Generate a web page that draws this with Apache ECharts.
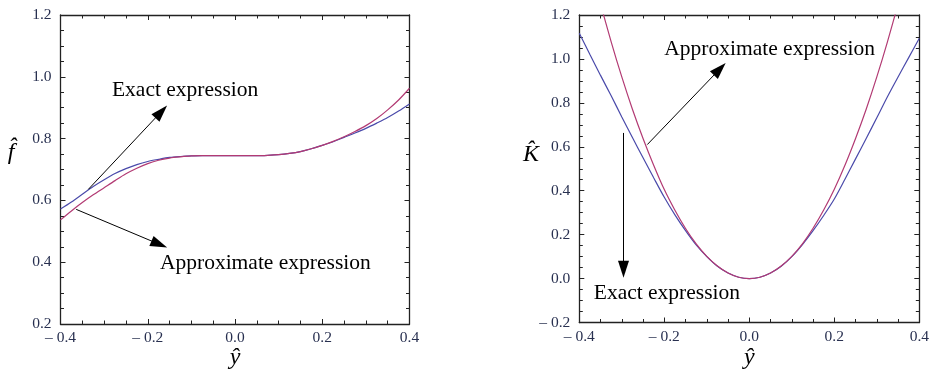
<!DOCTYPE html>
<html>
<head>
<meta charset="utf-8">
<script src="https://cdn.jsdelivr.net/npm/echarts@6/dist/echarts.min.js"></script>
<style>
html,body{margin:0;padding:0;background:#fff;}
#c{width:932px;height:371px;}
</style>
</head>
<body>
<div id="c"></div>
<script>
// y-hat sample positions
const yHat = [-0.4,-0.375,-0.35,-0.325,-0.3,-0.275,-0.25,-0.225,-0.2,-0.175,-0.15,-0.125,-0.1,-0.075,-0.05,-0.025,0,
  0.025,0.05,0.075,0.1,0.125,0.15,0.175,0.2,0.225,0.25,0.275,0.3,0.325,0.35,0.375,0.4];
// left panel: f-hat
const fExact = [0.572,0.595,0.620,0.645,0.667,0.687,0.703,0.716,0.726,0.733,0.739,0.742,0.744,0.745,0.745,0.745,0.745,
  0.745,0.745,0.746,0.748,0.752,0.758,0.767,0.778,0.790,0.804,0.818,0.833,0.850,0.868,0.889,0.912];
const fApprox = [0.537,0.566,0.593,0.618,0.641,0.664,0.686,0.704,0.719,0.730,0.737,0.741,0.744,0.745,0.745,0.745,0.745,
  0.745,0.745,0.746,0.748,0.752,0.758,0.767,0.778,0.791,0.806,0.823,0.842,0.865,0.893,0.925,0.963];
// right panel: K-hat
const kExact = [1.117,1.020,0.925,0.832,0.736,0.642,0.550,0.459,0.370,0.290,0.218,0.153,0.100,0.056,0.025,0.006,0,
  0.006,0.025,0.056,0.100,0.155,0.218,0.287,0.362,0.452,0.545,0.638,0.732,0.828,0.918,1.006,1.094];
const kApprox = [1.63,1.43,1.25,1.078,0.918,0.771,0.638,0.516,0.405,0.311,0.228,0.158,0.101,0.057,0.025,0.006,0,
  0.006,0.025,0.057,0.101,0.158,0.229,0.312,0.407,0.516,0.638,0.771,0.918,1.078,1.25,1.43,1.63];

const xTicks = {min:-0.4, max:0.4, interval:0.2};
const fTicks = {min:0.2, max:1.2, interval:0.2};
const kTicks = {min:-0.2, max:1.2, interval:0.2};

const labelExact = 'Exact expression';
const labelApprox = 'Approximate expression';

const BLUE = '#4a4aaa', RED = '#b23a73', FRAME = '#222';
const SERIF = '"Liberation Serif","DejaVu Serif",serif';

function fmt(v){
  const r = Math.round(v*10)/10;
  if (r < 0) return '\u2013 ' + Math.abs(r).toFixed(1);
  return r.toFixed(1);
}
function axisBase(ticks, pos, grid, showLabel, isX){
  return {
    type:'value', gridIndex:grid, position:pos,
    min:ticks.min, max:ticks.max, interval:ticks.interval,
    axisLine:{show:true, onZero:false, lineStyle:{color:FRAME, width:1.3}},
    axisTick:{show:true, inside:true, length:5, lineStyle:{color:FRAME, width:1}},
    minorTick:{show:true, splitNumber:4, length:3.5, lineStyle:{color:FRAME, width:1}},
    splitLine:{show:false}, minorSplitLine:{show:false},
    axisLabel:{show:showLabel, formatter:fmt, color:'#283050', fontFamily:SERIF, fontSize:15.5, margin: isX?6:9}
  };
}
function pairs(ys){ return yHat.map((x,i)=>[x, ys[i]]); }
function arrow(a, b){
  return [{coord:a, symbol:'none'}, {coord:b, symbol:'triangle', symbolSize:[11,17]}];
}
const mlBase = {silent:true, animation:false, label:{show:false}, emphasis:{disabled:true},
  lineStyle:{color:'#000', width:1, type:'solid'}, itemStyle:{color:'#000'}};

const chart = echarts.init(document.getElementById('c'), null, {renderer:'canvas'});
const option = {
  animation:false,
  backgroundColor:'#fff',
  grid:[
    {left:60.5, top:15, width:349, height:309},
    {left:579.3, top:15, width:344.7, height:307.5}
  ],
  xAxis:[
    axisBase(xTicks,'bottom',0,true,true), axisBase(xTicks,'top',0,false,true),
    axisBase(xTicks,'bottom',1,true,true), axisBase(xTicks,'top',1,false,true)
  ],
  yAxis:[
    axisBase(fTicks,'left',0,true,false), axisBase(fTicks,'right',0,false,false),
    axisBase(kTicks,'left',1,true,false), axisBase(kTicks,'right',1,false,false)
  ],
  series:[
    {type:'line', xAxisIndex:0, yAxisIndex:0, data:pairs(fExact), showSymbol:false, smooth:0.3,
      lineStyle:{color:BLUE, width:1.2}, itemStyle:{color:BLUE}, clip:true,
      markLine:Object.assign({data:[arrow([-0.336,0.636],[-0.169,0.887]), arrow([-0.364,0.571],[-0.1735,0.458])]}, mlBase)},
    {type:'line', xAxisIndex:0, yAxisIndex:0, data:pairs(fApprox), showSymbol:false, smooth:0.3,
      lineStyle:{color:RED, width:1.2}, itemStyle:{color:RED}, clip:true},
    {type:'line', xAxisIndex:2, yAxisIndex:2, data:pairs(kExact), showSymbol:false, smooth:0.3,
      lineStyle:{color:BLUE, width:1.2}, itemStyle:{color:BLUE}, clip:true,
      markLine:Object.assign({data:[arrow([-0.240,0.610],[-0.0695,0.954]), arrow([-0.296,0.663],[-0.296,0.043])]}, mlBase)},
    {type:'line', xAxisIndex:2, yAxisIndex:2, data:pairs(kApprox), showSymbol:false, smooth:0.3,
      lineStyle:{color:RED, width:1.2}, itemStyle:{color:RED}, clip:true}
  ]
};
chart.setOption(option);

function px(grid, pt){ return chart.convertToPixel({gridIndex:grid}, pt); }
const txt = (pos, s, opts) => ({type:'text', x:pos[0], y:pos[1], silent:true,
  style:Object.assign({text:s, fill:'#000', font:'21.5px ' + SERIF, textAlign:'left', textVerticalAlign:'middle'}, opts||{})});

const p1 = px(0,[-0.282,0.957]), p2 = px(0,[-0.172,0.397]);
const p3 = px(1,[-0.200,1.044]), p4 = px(1,[-0.366,-0.069]);
const ax0 = px(0,[0,0.2]), ax1 = px(1,[0,-0.2]);

chart.setOption({graphic:[
  txt(p1, labelExact), txt(p2, labelApprox), txt(p3, labelApprox), txt(p4, labelExact),
  txt([ax0[0], 358], '\u0177', {font:'italic 24px ' + SERIF, textAlign:'center'}),
  txt([ax1[0], 358], '\u0177', {font:'italic 24px ' + SERIF, textAlign:'center'}),
  txt([11, 153], 'f\u0302', {font:'italic 24px ' + SERIF, textAlign:'center'}),
  txt([531, 155], 'K\u0302', {font:'italic 24px ' + SERIF, textAlign:'center'})
]});
</script>
</body>
</html>
